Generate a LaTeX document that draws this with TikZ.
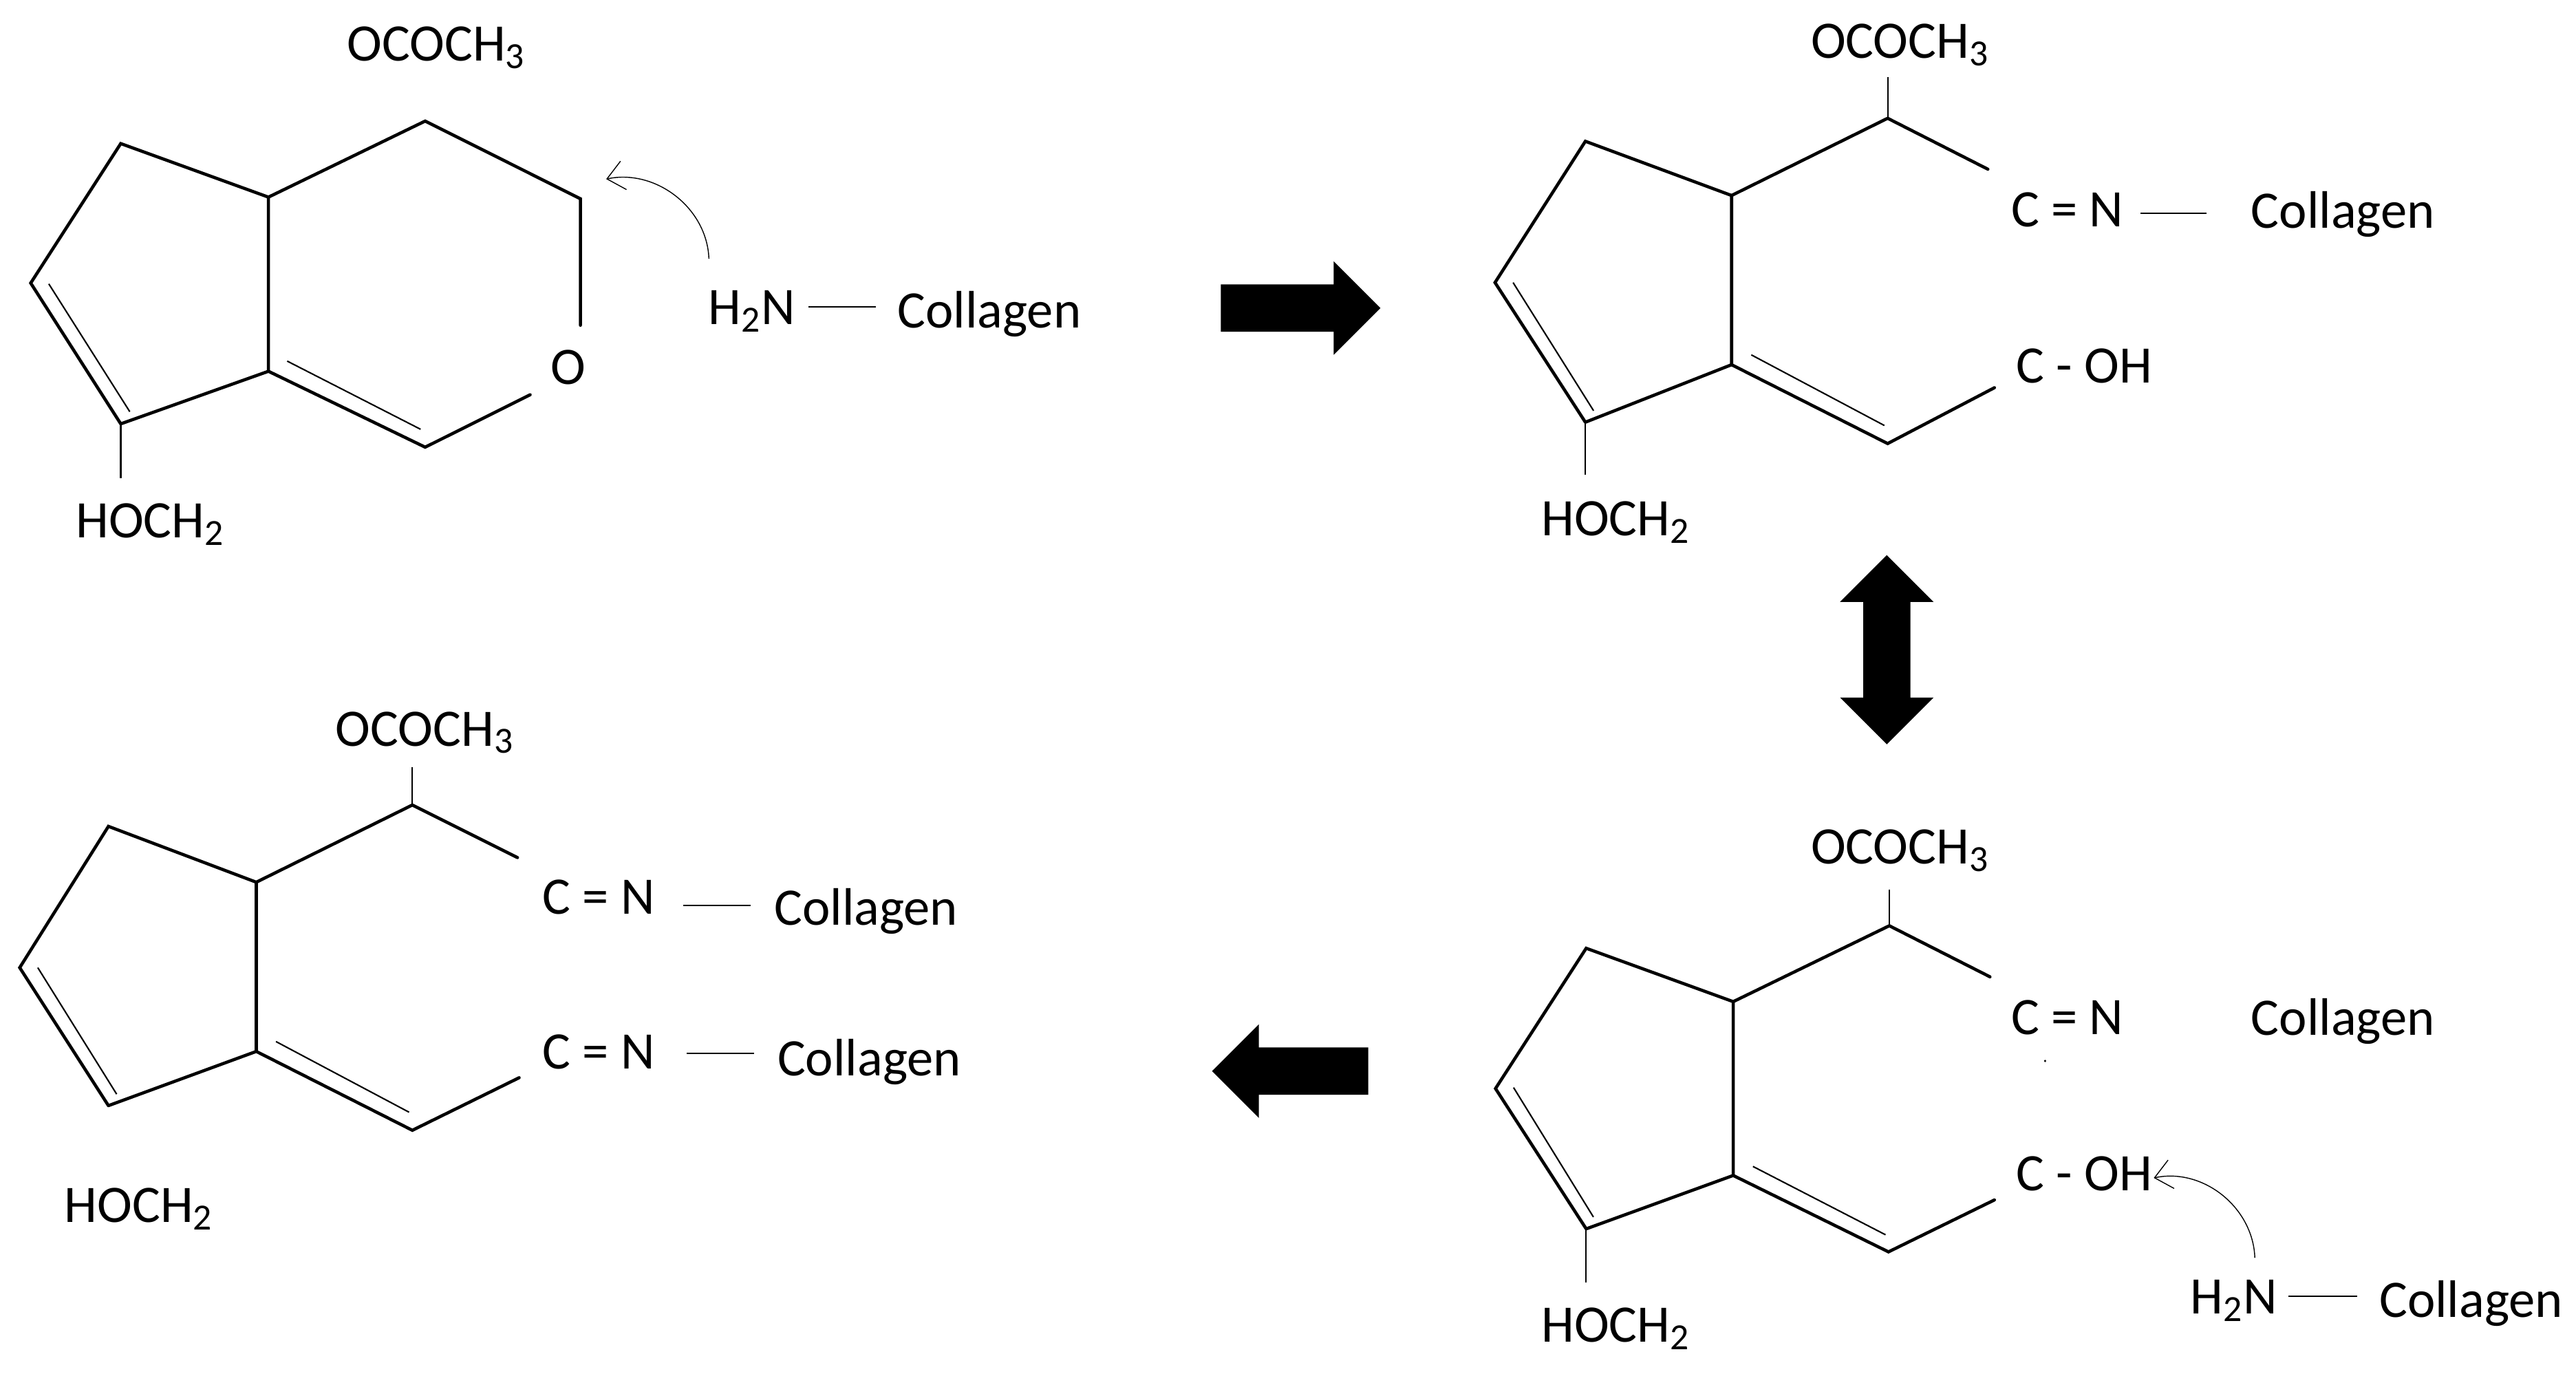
\documentclass[tikz,border=0pt]{standalone}
\usepackage{fontspec}
\setmainfont{Carlito}
\usetikzlibrary{shapes,positioning,arrows.meta}
\tikzset{
    bond/.style={line width=1.3pt,line cap=round,line join=miter},
    inner bond/.style={line width=0.6pt},
    chem/.style={anchor=base west,inner sep=0pt,font=\fontsize{21.8}{26}\selectfont},
    attack/.style={line width=0.4pt,-{Straight Barb[length=7pt,width=12pt,line width=0.4pt]}},
    block/.style={fill=black,inner sep=0.334cm,minimum width=1.36cm,single arrow head extend=0.334cm},
}
\newcommand{\sub}[1]{\textsubscript{#1}}
\begin{document}
\begin{tikzpicture}[x=0.02388cm,y=-0.02388cm]
    \useasboundingbox (0,0) rectangle (1568,836);

    % Iridoid ring, opened with O
    \begin{scope}
        \coordinate (a1) at (73.5,87.4);
        \coordinate (a2) at (163.4,120);
        \coordinate (a3) at (258.8,73.7);
        \coordinate (a4) at (353.3,121);
        \coordinate (a5) at (353.3,198);
        \coordinate (a6) at (322.7,240.3);
        \coordinate (a7) at (258.8,272.2);
        \coordinate (a8) at (163.4,226);
        \coordinate (a9) at (73.5,258);
        \coordinate (a10) at (18.7,172.3);
        \coordinate (a11) at (73.5,291);
        \draw[bond] (a9) -- (a10) -- (a1) -- (a2) -- (a8) -- (a9);
        \draw[bond] (a2) -- (a3) -- (a4) -- (a5);
        \draw[bond] (a6) -- (a7) -- (a8);
        \draw[inner bond] (a9) -- (a11);
        \draw[inner bond] (29.7,172.8) -- (79,250.6);
        \draw[inner bond] (174.8,219.8) -- (256,261.3);
        \node[chem] (oa) at (211,37) {OCOCH\sub{3}};
        \node[chem] (ob) at (46,327.5) {HOCH\sub{2}};
        \node[chem] (oc) at (335,234) {O};
        \node[chem] (na) at (431,197.4) {H\sub{2}N};
        \node[chem] (ca) at (546,199.7) {Collagen};
        \coordinate (ba) at (492,186.7);
        \coordinate (bb) at (533,186.7);
        \coordinate (ta) at (431.5,157.5);
        \coordinate (tb) at (369,109);
        \draw[inner bond] (ba) -- (bb);
        \draw[attack] (ta) to[out=92,in=12] (tb);
    \end{scope}

    % Top right, C = N formed
    \begin{scope}
        \coordinate (b1) at (965,86);
        \coordinate (b2) at (1054,119);
        \coordinate (b3) at (1149,72);
        \coordinate (b4) at (1149,47);
        \coordinate (b5) at (1210,103);
        \coordinate (b6) at (1054,222);
        \coordinate (b7) at (1149,270);
        \coordinate (b8) at (1214,236);
        \coordinate (b9) at (965,257);
        \coordinate (b10) at (910,172);
        \coordinate (b11) at (965,289);
        \draw[bond] (b9) -- (b10) -- (b1) -- (b2) -- (b6) -- (b9);
        \draw[bond] (b2) -- (b3) -- (b5);
        \draw[bond] (b8) -- (b7) -- (b6);
        \draw[inner bond] (b3) -- (b4);
        \draw[inner bond] (b9) -- (b11);
        \draw[inner bond] (921,172) -- (970,250);
        \draw[inner bond] (1066,216) -- (1147,259);
        \node[chem] (od) at (1102,35.5) {OCOCH\sub{3}};
        \node[chem] (oe) at (938,326) {HOCH\sub{2}};
        \node[chem] (nb) at (1224,138) {C = N};
        \node[chem] (cb) at (1370,139) {Collagen};
        \node[chem] (oh) at (1227,233) {C - OH};
        \coordinate (bc) at (1303,130);
        \coordinate (bd) at (1343,130);
        \draw[inner bond] (bc) -- (bd);
    \end{scope}

    % Bottom right, second attack
    \begin{scope}
        \coordinate (c1) at (965.5,577.2);
        \coordinate (c2) at (1055,609.7);
        \coordinate (c3) at (1150,563.5);
        \coordinate (c4) at (1150,541.7);
        \coordinate (c5) at (1211.3,594.6);
        \coordinate (c6) at (1055,715.5);
        \coordinate (c7) at (1149.5,762);
        \coordinate (c8) at (1214,730.4);
        \coordinate (c9) at (965.5,748);
        \coordinate (c10) at (910.3,662.6);
        \coordinate (c11) at (965.5,780.5);
        \draw[bond] (c9) -- (c10) -- (c1) -- (c2) -- (c6) -- (c9);
        \draw[bond] (c2) -- (c3) -- (c5);
        \draw[bond] (c8) -- (c7) -- (c6);
        \draw[inner bond] (c3) -- (c4);
        \draw[inner bond] (c9) -- (c11);
        \draw[inner bond] (921.3,662) -- (969.9,740.8);
        \draw[inner bond] (1067,710) -- (1147.7,751.6);
        \node[chem] (of) at (1102,526) {OCOCH\sub{3}};
        \node[chem] (og) at (938,817) {HOCH\sub{2}};
        \node[chem] (nc) at (1224,629.7) {C = N};
        \node[chem] (cc) at (1370,630) {Collagen};
        \node[chem] (oi) at (1227,724.7) {C - OH};
        \node[chem] (nd) at (1333,799.7) {H\sub{2}N};
        \node[chem] (cd) at (1448,801.6) {Collagen};
        \coordinate (be) at (1393,788.9);
        \coordinate (bf) at (1435,788.9);
        \coordinate (tc) at (1372.5,765.6);
        \coordinate (td) at (1311,717);
        \draw[inner bond] (be) -- (bf);
        \draw[attack] (tc) to[out=92,in=12] (td);
        \fill (1244.8,645.8) circle (0.5pt);
    \end{scope}

    % Bottom left, both C = N
    \begin{scope}
        \coordinate (d1) at (66,503);
        \coordinate (d2) at (156,537);
        \coordinate (d3) at (251,490);
        \coordinate (d4) at (251,467);
        \coordinate (d5) at (315,522);
        \coordinate (d6) at (156,640);
        \coordinate (d7) at (251,688);
        \coordinate (d8) at (316,656);
        \coordinate (d9) at (66,673);
        \coordinate (d10) at (12,589);
        \draw[bond] (d9) -- (d10) -- (d1) -- (d2) -- (d6) -- (d9);
        \draw[bond] (d2) -- (d3) -- (d5);
        \draw[bond] (d8) -- (d7) -- (d6);
        \draw[inner bond] (d3) -- (d4);
        \draw[inner bond] (23,589) -- (71,666);
        \draw[inner bond] (168,634) -- (249,677);
        \node[chem] (oj) at (204,454) {OCOCH\sub{3}};
        \node[chem] (ok) at (39,744) {HOCH\sub{2}};
        \node[chem] (ne) at (330,556.5) {C = N};
        \node[chem] (ce) at (471,563) {Collagen};
        \node[chem] (nf) at (330,650.5) {C = N};
        \node[chem] (cf) at (473,655) {Collagen};
        \coordinate (bg) at (416,551);
        \coordinate (bh) at (457,551);
        \coordinate (bi) at (418,641);
        \coordinate (bj) at (459,641);
        \draw[inner bond] (bg) -- (bh);
        \draw[inner bond] (bi) -- (bj);
    \end{scope}

    % Block arrows
    \node[block,single arrow,minimum height=2.32cm] (ra) at (784.5,187.5) {};
    \node[block,double arrow,double arrow head extend=0.334cm,minimum height=2.75cm,shape border rotate=90] (da) at (1148.5,395.5) {};
    \node[block,single arrow,minimum height=2.27cm,shape border rotate=180] (la) at (792.5,652) {};
\end{tikzpicture}
\end{document}
